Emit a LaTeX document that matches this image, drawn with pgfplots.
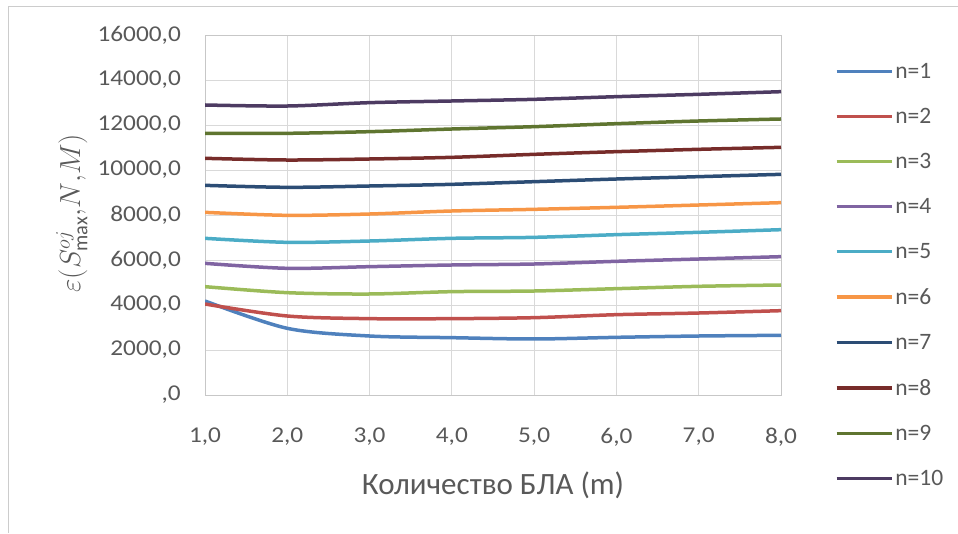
\RequirePackage{fix-cm}
\documentclass[border=0pt]{standalone}
\usepackage{pgfplots}
\pgfplotsset{compat=1.18}
\usepackage{fontspec}
\setmainfont{Carlito}
\newfontfamily\tickfont{Carlito}[FakeStretch=1.12]
\definecolor{c1}{HTML}{4F81BD}
\definecolor{c2}{HTML}{C0504D}
\definecolor{c3}{HTML}{9BBB59}
\definecolor{c4}{HTML}{8064A2}
\definecolor{c5}{HTML}{4BACC6}
\definecolor{c6}{HTML}{F79646}
\definecolor{c7}{HTML}{2C4D75}
\definecolor{c8}{HTML}{772C2A}
\definecolor{c9}{HTML}{5F7530}
\definecolor{c10}{HTML}{4D3B62}
\definecolor{txt}{HTML}{595959}
\definecolor{gridc}{HTML}{D9D9D9}
\begin{document}
\begin{tikzpicture}[x=1pt,y=1pt]
\useasboundingbox (0,0) rectangle (958,533);
\draw[gray!40, line width=1pt] (8,0) -- (8,526) -- (958,526);
\begin{axis}[
  at={(205pt,138pt)}, anchor=south west,
  scale only axis, width=576pt, height=360pt,
  xmin=1, xmax=8, ymin=0, ymax=16000,
  scaled y ticks=false, scaled x ticks=false,
  xtick={1,2,3,4,5,6,7,8},
  xticklabels={{1,0},{2,0},{3,0},{4,0},{5,0},{6,0},{7,0},{8,0}},
  ytick={0,2000,4000,6000,8000,10000,12000,14000,16000},
  yticklabels={{,0},{2000,0},{4000,0},{6000,0},{8000,0},{10000,0},{12000,0},{14000,0},{16000,0}},
  grid=major, grid style={color=gridc, line width=0.9pt},
  axis line style={color=gridc!80!gray, line width=0.9pt},
  major tick length=0pt,
  tick label style={font=\tickfont\fontsize{22.6}{22.6}\selectfont, text=txt, inner sep=0pt},
  xticklabel shift=33pt,
  yticklabel shift=24pt,
  xlabel={Количество БЛА (m)},
  xlabel style={at={(axis description cs:0.5,-0.25)}, anchor=center, font=\fontsize{31}{31}\selectfont, text=txt},
  ylabel={$\varepsilon(S^{oj}_{\mathrm{max}}{,}N{,}M)$},
  ylabel style={at={(axis description cs:-0.231,0.505)}, anchor=center, font=\fontsize{29}{29}\selectfont, text=txt},
  legend style={draw=none, fill=none, at={(1.088,0.934)}, anchor=north west,
    font=\fontsize{23.5}{23.5}\selectfont, text=txt, row sep=24.4pt},
  legend cell align=left,
  legend image code/.code={\draw[#1, line width=3.5pt] (0pt,0pt) -- (55pt,0pt);},
  every axis plot/.append style={line width=3.5pt, smooth, tension=0.5, mark=none},
]
\addplot[c1] coordinates {(1,4178)(2,2963)(3,2622)(4,2548)(5,2489)(6,2563)(7,2622)(8,2652)};
\addlegendentry{n=1}
\addplot[c2] coordinates {(1,4044)(2,3511)(3,3393)(4,3393)(5,3437)(6,3570)(7,3644)(8,3748)};
\addlegendentry{n=2}
\addplot[c3] coordinates {(1,4815)(2,4548)(3,4489)(4,4593)(5,4622)(6,4726)(7,4830)(8,4889)};
\addlegendentry{n=3}
\addplot[c4] coordinates {(1,5852)(2,5630)(3,5704)(4,5778)(5,5822)(6,5941)(7,6044)(8,6148)};
\addlegendentry{n=4}
\addplot[c5] coordinates {(1,6963)(2,6785)(3,6844)(4,6963)(5,7007)(6,7126)(7,7230)(8,7348)};
\addlegendentry{n=5}
\addplot[c6] coordinates {(1,8118)(2,7985)(3,8044)(4,8178)(5,8252)(6,8341)(7,8444)(8,8548)};
\addlegendentry{n=6}
\addplot[c7] coordinates {(1,9318)(2,9230)(3,9289)(4,9363)(5,9481)(6,9600)(7,9704)(8,9807)};
\addlegendentry{n=7}
\addplot[c8] coordinates {(1,10519)(2,10444)(3,10489)(4,10563)(5,10696)(6,10815)(7,10919)(8,11007)};
\addlegendentry{n=8}
\addplot[c9] coordinates {(1,11630)(2,11630)(3,11704)(4,11822)(5,11926)(6,12059)(7,12178)(8,12267)};
\addlegendentry{n=9}
\addplot[c10] coordinates {(1,12889)(2,12844)(3,12993)(4,13067)(5,13141)(6,13259)(7,13363)(8,13481)};
\addlegendentry{n=10}
\end{axis}
\end{tikzpicture}
\end{document}
